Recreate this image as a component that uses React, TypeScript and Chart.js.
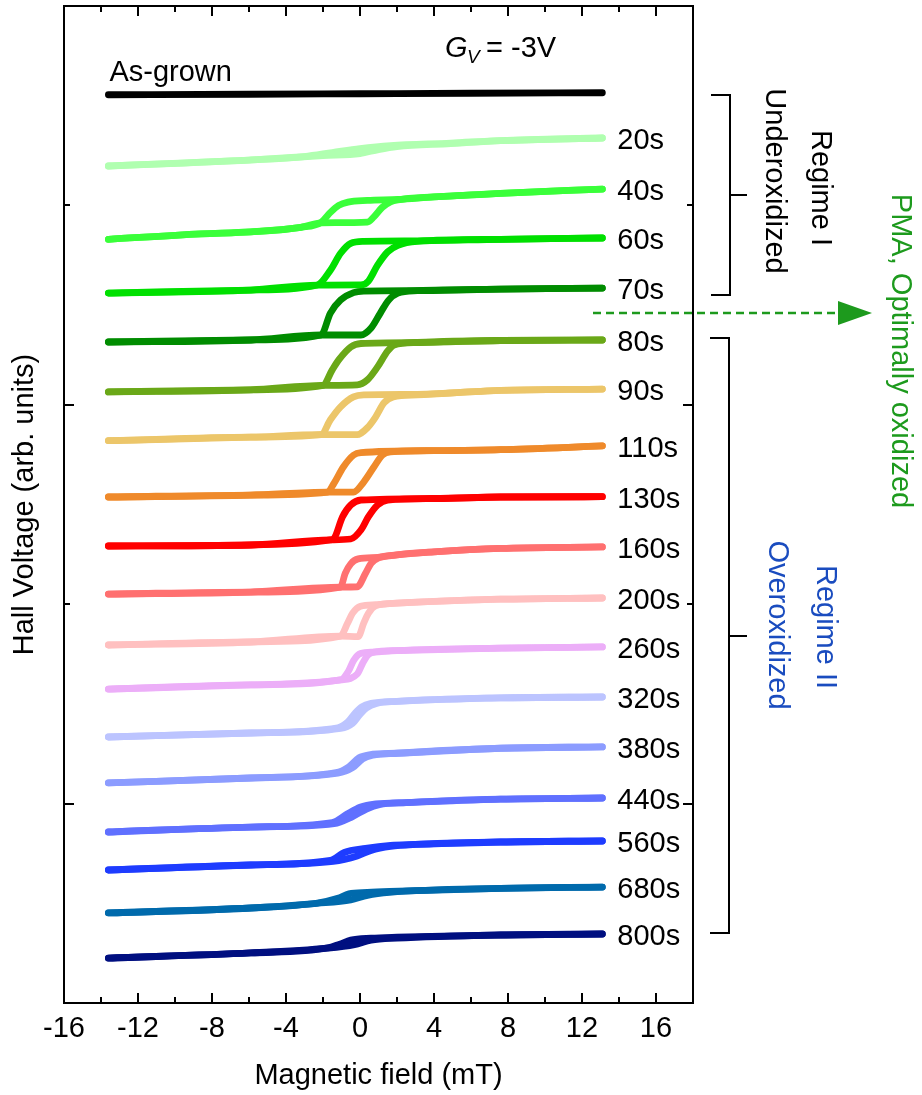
import React, { useEffect, useRef } from "react";
import { Chart, registerables } from "chart.js";
Chart.register(...registerables);

type P = [number, number];

// ---- axis ticks ----
const X_MAJOR = [-16, -12, -8, -4, 0, 4, 8, 12, 16];
const X_TICK_LABELS = ["-16", "-12", "-8", "-4", "0", "4", "8", "12", "16"];
const X_MINOR = [-14, -10, -6, -2, 2, 6, 10, 14];
const Y_MAJOR = [20, 60];
const Y_MINOR = [40, 80];

// ---- series (field mT, Hall voltage arb. units incl. offset) ----
const AS_GROWN: P[] = [[-13.6, 91.1], [-6, 91.15], [0, 91.2], [6, 91.25], [13.1, 91.3]];

const S20_LO: P[] = [[-13.6, 83.95], [-6, 84.55], [-2, 85.0], [0, 85.2], [1, 85.6], [2, 85.9], [4.9, 86.2], [7.6, 86.5], [13.1, 86.76]];
const S20_UP: P[] = [[-13.6, 83.95], [-6, 84.55], [-3, 84.9], [-1.5, 85.3], [0, 85.7], [1.65, 86.0], [4.9, 86.25], [7.6, 86.5], [13.1, 86.76]];

const S40_LO: P[] = [[-13.6, 76.6], [-8.6, 77.15], [-5.9, 77.35], [-3.2, 77.8], [-2.1, 78.25], [0.4, 78.33], [0.75, 78.85], [1.2, 79.8], [1.65, 80.35], [2.05, 80.55], [4, 80.85], [7.6, 81.2], [13.1, 81.64]];
const S40_UP: P[] = [[-13.6, 76.6], [-8.6, 77.15], [-5.9, 77.35], [-3.2, 77.8], [-2.1, 78.3], [-1.6, 79.3], [-1.15, 80.0], [-0.65, 80.33], [0.4, 80.5], [2.05, 80.6], [4, 80.85], [7.6, 81.2], [13.1, 81.64]];

const S60_LO: P[] = [[-13.6, 71.21], [-5.9, 71.51], [-2.3, 72.0], [0.05, 72.02], [0.45, 72.4], [0.95, 74.0], [1.5, 75.35], [2.05, 76.0], [3.1, 76.4], [7.6, 76.6], [13.1, 76.73]];
const S60_UP: P[] = [[-13.6, 71.21], [-5.9, 71.51], [-2.3, 72.02], [-1.6, 73.5], [-1.05, 75.2], [-0.5, 76.2], [0.2, 76.4], [3.1, 76.45], [7.6, 76.6], [13.1, 76.73]];

const S70_LO: P[] = [[-13.6, 66.3], [-5.9, 66.5], [-2.1, 67.0], [0.05, 67.0], [0.6, 67.7], [1.1, 69.2], [1.55, 70.5], [2.05, 71.2], [3.1, 71.45], [7.6, 71.6], [13.1, 71.71]];
const S70_UP: P[] = [[-13.6, 66.3], [-5.9, 66.5], [-2.1, 67.0], [-1.6, 69.2], [-1.05, 70.5], [-0.35, 71.25], [0.2, 71.4], [3.1, 71.45], [7.6, 71.6], [13.1, 71.71]];

const S80_LO: P[] = [[-13.6, 61.3], [-5.9, 61.5], [-2.0, 61.95], [-0.15, 62.0], [0.4, 62.5], [0.95, 63.8], [1.5, 65.4], [1.85, 66.0], [3.1, 66.25], [7.6, 66.45], [13.1, 66.5]];
const S80_UP: P[] = [[-13.6, 61.3], [-5.9, 61.5], [-2.0, 61.95], [-1.5, 63.5], [-1.15, 64.5], [-0.5, 65.8], [0.05, 66.15], [3.1, 66.25], [7.6, 66.45], [13.1, 66.5]];

const S90_LO: P[] = [[-13.6, 56.4], [-5.9, 56.75], [-2.1, 57.0], [-0.15, 57.0], [0.4, 57.7], [0.85, 58.8], [1.3, 60.2], [1.8, 60.8], [3.1, 61.0], [7.6, 61.45], [13.1, 61.58]];
const S90_UP: P[] = [[-13.6, 56.4], [-5.9, 56.75], [-2.1, 57.0], [-1.6, 58.5], [-1.05, 59.8], [-0.35, 60.8], [0.2, 61.0], [3.1, 61.05], [7.6, 61.45], [13.1, 61.58]];

const S110_LO: P[] = [[-13.6, 50.75], [-5.9, 50.95], [-1.75, 51.25], [-0.35, 51.25], [0.2, 52.25], [0.75, 53.76], [1.2, 54.95], [1.65, 55.27], [4, 55.4], [7.6, 55.5], [13.1, 55.87]];
const S110_UP: P[] = [[-13.6, 50.75], [-5.9, 50.95], [-1.75, 51.25], [-1.4, 52.15], [-0.9, 53.76], [-0.35, 54.95], [0.05, 55.2], [4, 55.4], [7.6, 55.5], [13.1, 55.87]];

const S130_LO: P[] = [[-13.6, 45.84], [-5.9, 45.94], [-1.6, 46.45], [-0.5, 46.54], [0.05, 47.44], [0.45, 48.75], [0.95, 49.95], [1.5, 50.45], [4, 50.6], [7.6, 50.75], [13.1, 50.78]];
const S130_UP: P[] = [[-13.6, 45.84], [-5.9, 45.94], [-1.6, 46.45], [-1.4, 46.6], [-0.95, 48.75], [-0.5, 49.95], [0.05, 50.45], [4, 50.6], [7.6, 50.75], [13.1, 50.78]];

const S160_LO: P[] = [[-13.6, 41.02], [-5.9, 41.22], [-1.05, 41.72], [-0.15, 41.75], [0.3, 43.1], [0.6, 44.1], [1.0, 44.65], [2, 44.95], [4, 45.25], [7.6, 45.6], [13.1, 45.74]];
const S160_UP: P[] = [[-13.6, 41.02], [-5.9, 41.22], [-1.05, 41.72], [-0.8, 43.1], [-0.5, 44.05], [-0.1, 44.55], [0.95, 44.7], [2, 44.95], [4, 45.25], [7.6, 45.6], [13.1, 45.74]];

const S200_LO: P[] = [[-13.6, 35.91], [-5.9, 36.21], [-1.05, 36.8], [-0.1, 36.75], [0.2, 38.1], [0.46, 39.1], [0.85, 39.85], [2, 40.1], [7.6, 40.5], [13.1, 40.62]];
const S200_UP: P[] = [[-13.6, 35.91], [-5.9, 36.21], [-1.05, 36.8], [-0.67, 38.1], [-0.4, 39.1], [0.03, 39.8], [0.85, 39.95], [2, 40.1], [7.6, 40.5], [13.1, 40.62]];

const S260_LO: P[] = [[-13.6, 31.49], [-5.9, 31.9], [-1.05, 32.4], [-0.15, 33.0], [0.15, 34.1], [0.42, 34.9], [0.75, 35.2], [2, 35.35], [7.6, 35.6], [13.1, 35.71]];
const S260_UP: P[] = [[-13.6, 31.49], [-5.9, 31.9], [-1.05, 32.4], [-0.62, 33.3], [-0.35, 34.35], [0.03, 35.05], [0.75, 35.2], [2, 35.35], [7.6, 35.6], [13.1, 35.71]];

const S320_LO: P[] = [[-13.6, 26.68], [-5.9, 27.08], [-1.05, 27.55], [-0.4, 28.05], [0.0, 28.95], [0.35, 29.6], [0.9, 30.05], [2, 30.25], [7.6, 30.6], [13.1, 30.69]];
const S320_UP: P[] = [[-13.6, 26.68], [-5.9, 27.08], [-1.2, 27.6], [-0.65, 28.2], [-0.25, 29.1], [0.1, 29.7], [0.6, 30.05], [2, 30.25], [7.6, 30.6], [13.1, 30.69]];

const S380_LO: P[] = [[-13.6, 22.07], [-5.9, 22.57], [-1.2, 23.05], [-0.4, 23.6], [0.15, 24.5], [0.7, 24.85], [2, 25.05], [7.6, 25.55], [13.1, 25.68]];
const S380_UP: P[] = [[-13.6, 22.07], [-5.9, 22.57], [-1.3, 23.1], [-0.6, 23.7], [-0.05, 24.6], [0.5, 24.9], [2, 25.05], [7.6, 25.55], [13.1, 25.68]];

const S440_LO: P[] = [[-13.6, 17.15], [-5.9, 17.65], [-1.4, 18.0], [-0.4, 18.7], [0.35, 19.45], [1.05, 19.9], [2.5, 20.1], [7.6, 20.45], [13.1, 20.56]];
const S440_UP: P[] = [[-13.6, 17.15], [-5.9, 17.65], [-1.5, 18.1], [-0.7, 18.95], [0.0, 19.65], [0.85, 19.98], [2.5, 20.1], [7.6, 20.45], [13.1, 20.56]];

const S560_LO: P[] = [[-13.6, 13.34], [-5.9, 13.84], [-1.45, 14.2], [-0.15, 14.75], [0.6, 15.3], [1.65, 15.7], [3, 15.9], [7.6, 16.15], [13.1, 16.25]];
const S560_UP: P[] = [[-13.6, 13.34], [-5.9, 13.84], [-1.6, 14.3], [-0.85, 15.1], [0.3, 15.5], [1.65, 15.8], [3, 15.9], [7.6, 16.15], [13.1, 16.25]];

const S680_LO: P[] = [[-13.6, 9.03], [-5.9, 9.53], [-2.3, 10.0], [-0.5, 10.35], [0.4, 10.8], [1.6, 11.1], [7.6, 11.5], [13.1, 11.63]];
const S680_UP: P[] = [[-13.6, 9.03], [-5.9, 9.53], [-2.3, 10.03], [-1.2, 10.5], [-0.6, 10.95], [0.4, 11.1], [1.6, 11.2], [7.6, 11.5], [13.1, 11.63]];

const S800_LO: P[] = [[-13.6, 4.51], [-5.9, 5.02], [-1.75, 5.5], [-0.3, 5.85], [0.6, 6.3], [2, 6.5], [7.6, 6.82], [13.1, 6.92]];
const S800_UP: P[] = [[-13.6, 4.51], [-5.9, 5.02], [-1.75, 5.52], [-1.1, 5.9], [-0.5, 6.3], [0.6, 6.5], [2, 6.6], [7.6, 6.82], [13.1, 6.92]];

const SERIES_LABELS = ["As-grown", "20s", "40s", "60s", "70s", "80s", "90s", "110s", "130s", "160s", "200s", "260s", "320s", "380s", "440s", "560s", "680s", "800s"];
const SERIES_COLORS = ["#000000", "#b0ffb0", "#3aff3a", "#00e000", "#008c00", "#6aa818", "#ecc66a", "#ef8a2b", "#ff0000", "#ff7070", "#ffc0c0", "#ecaef8", "#bcc4ff", "#8c9cff", "#6070ff", "#1e3cff", "#006aac", "#000f80"];
const SERIES_LO = [AS_GROWN, S20_LO, S40_LO, S60_LO, S70_LO, S80_LO, S90_LO, S110_LO, S130_LO, S160_LO, S200_LO, S260_LO, S320_LO, S380_LO, S440_LO, S560_LO, S680_LO, S800_LO];
const SERIES_UP = [AS_GROWN, S20_UP, S40_UP, S60_UP, S70_UP, S80_UP, S90_UP, S110_UP, S130_UP, S160_UP, S200_UP, S260_UP, S320_UP, S380_UP, S440_UP, S560_UP, S680_UP, S800_UP];

const FONT = '"Liberation Sans", Arial, Helvetica, sans-serif';
const FS = 29;
const GREEN = "#1d9a1d";
const BLUE = "#1a4cbf";

export default function App() {
  const ref = useRef<HTMLCanvasElement>(null);

  useEffect(() => {
    const canvas = ref.current;
    if (!canvas) return;

    const datasets: any[] = [];
    SERIES_LABELS.forEach((label, i) => {
      const branches = i === 0 ? [SERIES_LO[i]] : [SERIES_LO[i], SERIES_UP[i]];
      branches.forEach((b, k) => {
        datasets.push({
          label: label + (k ? " (down sweep)" : " (up sweep)"),
          data: b.map(([x, y]) => ({ x, y })),
          borderColor: SERIES_COLORS[i],
          backgroundColor: SERIES_COLORS[i],
          borderWidth: 6.8,
          pointRadius: 0,
          pointHoverRadius: 0,
          cubicInterpolationMode: "monotone",
          borderCapStyle: "round",
          borderJoinStyle: "round",
          fill: false,
        });
      });
    });

    const overlay = {
      id: "overlay",
      afterDraw(chart: any) {
        const { ctx, chartArea } = chart;
        const xs = chart.scales.x;
        const ys = chart.scales.y;
        const { left, right, top, bottom } = chartArea;
        ctx.save();
        ctx.strokeStyle = "#000";
        ctx.fillStyle = "#000";
        ctx.lineWidth = 2;
        ctx.lineCap = "butt";
        // frame
        ctx.strokeRect(left, top, right - left, bottom - top);
        const tick = (x1: number, y1: number, x2: number, y2: number) => {
          ctx.beginPath();
          ctx.moveTo(x1, y1);
          ctx.lineTo(x2, y2);
          ctx.stroke();
        };
        X_MAJOR.forEach((v) => {
          const p = Math.round(xs.getPixelForValue(v));
          tick(p, bottom, p, bottom - 10);
          tick(p, top, p, top + 10);
        });
        X_MINOR.forEach((v) => {
          const p = Math.round(xs.getPixelForValue(v));
          tick(p, bottom, p, bottom - 6);
          tick(p, top, p, top + 6);
        });
        Y_MAJOR.forEach((v) => {
          const p = Math.round(ys.getPixelForValue(v));
          tick(left, p, left + 10, p);
          tick(right, p, right - 10, p);
        });
        Y_MINOR.forEach((v) => {
          const p = Math.round(ys.getPixelForValue(v));
          tick(left, p, left + 6, p);
          tick(right, p, right - 6, p);
        });

        // curve labels
        ctx.font = `${FS}px ${FONT}`;
        ctx.textAlign = "left";
        ctx.textBaseline = "alphabetic";
        SERIES_LABELS.forEach((label, i) => {
          if (i === 0) return;
          const last = SERIES_UP[i][SERIES_UP[i].length - 1];
          const px = xs.getPixelForValue(last[0]) + 15;
          const py = ys.getPixelForValue(last[1]) + 1 + 10.4;
          ctx.fillText(label, px, py);
        });
        // As-grown label
        {
          const first = SERIES_LO[0][0];
          const px = xs.getPixelForValue(first[0]) + 1;
          const py = ys.getPixelForValue(first[1]) - 14;
          ctx.fillText(SERIES_LABELS[0], px, py);
        }
        // G_V = -3V
        ctx.font = `italic ${FS}px ${FONT}`;
        ctx.fillText("G", 445, 57);
        ctx.font = `italic 19px ${FONT}`;
        ctx.fillText("V", 467, 63);
        ctx.font = `${FS}px ${FONT}`;
        ctx.fillText(" = -3V", 478, 57);

        // brackets
        ctx.lineWidth = 2;
        ctx.beginPath();
        ctx.moveTo(711, 95);
        ctx.lineTo(730, 95);
        ctx.lineTo(730, 295);
        ctx.lineTo(711, 295);
        ctx.moveTo(730, 195);
        ctx.lineTo(747, 195);
        ctx.stroke();
        ctx.beginPath();
        ctx.moveTo(710, 338);
        ctx.lineTo(729, 338);
        ctx.lineTo(729, 933);
        ctx.lineTo(710, 933);
        ctx.moveTo(729, 636);
        ctx.lineTo(747, 636);
        ctx.stroke();

        // dashed arrow
        ctx.strokeStyle = GREEN;
        ctx.fillStyle = GREEN;
        ctx.lineWidth = 2.5;
        ctx.setLineDash([8, 5]);
        ctx.beginPath();
        ctx.moveTo(593, 313);
        ctx.lineTo(840, 313);
        ctx.stroke();
        ctx.setLineDash([]);
        ctx.beginPath();
        ctx.moveTo(838, 301);
        ctx.lineTo(872, 313);
        ctx.lineTo(838, 325);
        ctx.closePath();
        ctx.fill();

        // rotated texts
        const rot = (text: string, bx: number, cy: number, color: string) => {
          ctx.save();
          ctx.translate(bx, cy);
          ctx.rotate(Math.PI / 2);
          ctx.font = `${FS}px ${FONT}`;
          ctx.fillStyle = color;
          ctx.textAlign = "center";
          ctx.textBaseline = "alphabetic";
          ctx.fillText(text, 0, 0);
          ctx.restore();
        };
        rot("Regime I", 812, 188, "#000");
        rot("Underoxidized", 766, 181, "#000");
        rot("PMA, Optimally oxidized", 892, 351, GREEN);
        rot("Regime II", 817, 627, BLUE);
        rot("Overoxidized", 769, 625, BLUE);

        ctx.restore();
      },
    };

    const chart = new Chart(canvas, {
      type: "line",
      data: { datasets },
      options: {
        responsive: false,
        animation: false,
        devicePixelRatio: 1,
        layout: { padding: { left: 0, right: 229, top: 6, bottom: 0 } },
        plugins: { legend: { display: false }, tooltip: { enabled: false } },
        events: [],
        scales: {
          x: {
            type: "linear",
            min: -16,
            max: 18,
            grid: { display: false, drawTicks: false },
            border: { display: false },
            afterBuildTicks: (s: any) => {
              s.ticks = X_MAJOR.map((v) => ({ value: v }));
            },
            afterFit: (s: any) => {
              s.height = 92;
            },
            ticks: {
              autoSkip: false,
              maxRotation: 0,
              padding: 9,
              color: "#000",
              font: { family: FONT, size: FS },
              callback: (v: any) => {
                const i = X_MAJOR.indexOf(Number(v));
                return i >= 0 ? X_TICK_LABELS[i] : "";
              },
            },
            title: {
              display: true,
              text: "Magnetic field (mT)",
              color: "#000",
              font: { family: FONT, size: FS },
              padding: { top: 0, bottom: 2 },
            },
          },
          y: {
            type: "linear",
            min: 0,
            max: 100,
            grid: { display: false, drawTicks: false },
            border: { display: false },
            ticks: { display: false },
            afterFit: (s: any) => {
              s.width = 64;
            },
            title: {
              display: true,
              text: "Hall Voltage (arb. units)",
              color: "#000",
              font: { family: FONT, size: FS },
              padding: { top: 8, bottom: 0 },
            },
          },
        },
      } as any,
      plugins: [overlay],
    });
    return () => chart.destroy();
  }, []);

  return (
    <canvas
      ref={ref}
      width={922}
      height={1095}
      style={{ position: "absolute", left: 0, top: 0, display: "block", width: 922, height: 1095 }}
    />
  );
}
